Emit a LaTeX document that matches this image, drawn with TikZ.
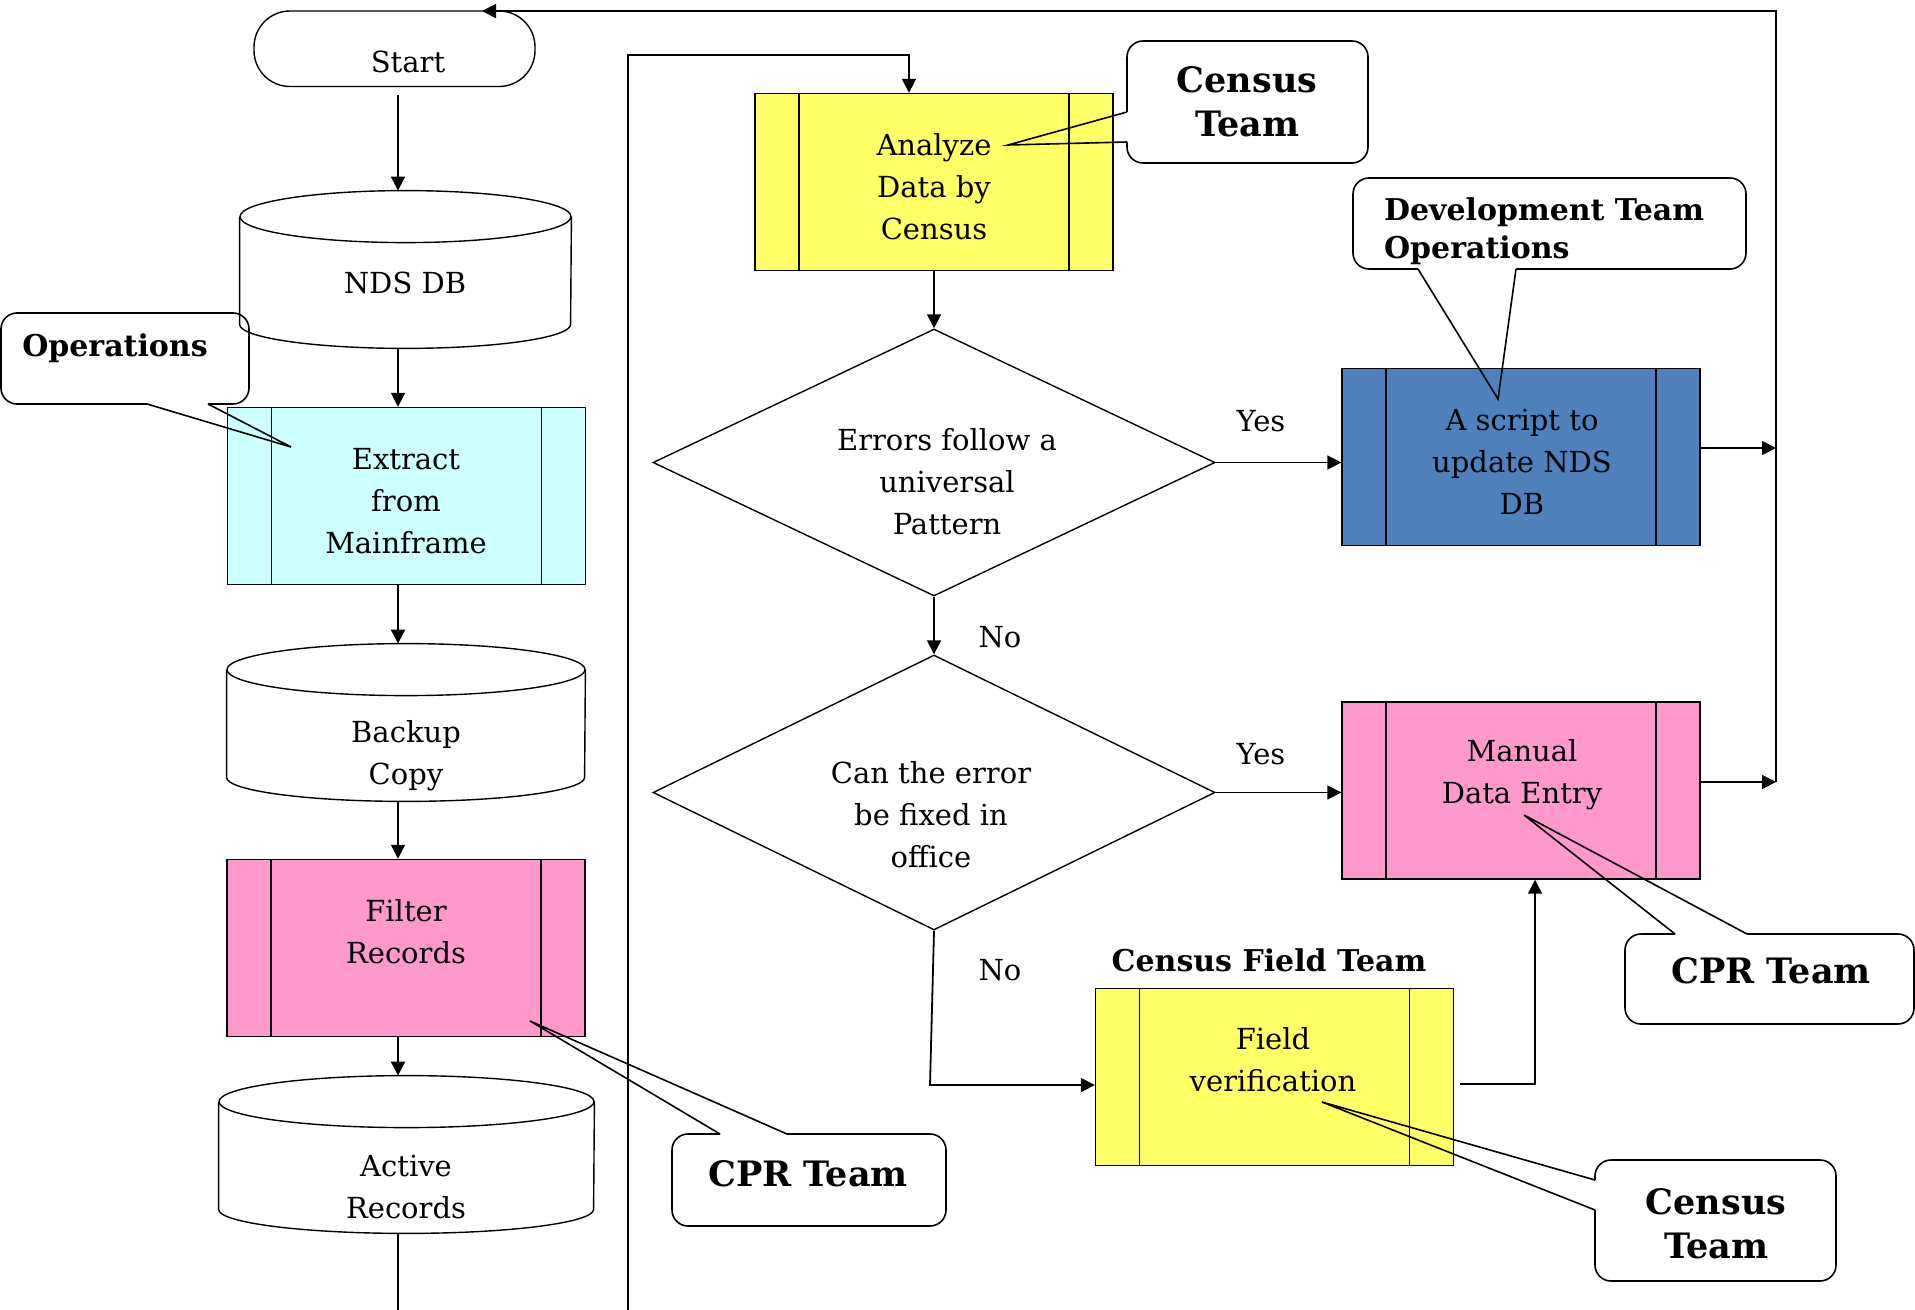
\documentclass[tikz,border=0pt]{standalone}
\usepackage{fontspec}
\setmainfont{DejaVu Serif}
\usetikzlibrary{shapes.geometric,arrows.meta}
\definecolor{boxcyan}{HTML}{CCFFFF}
\definecolor{boxyellow}{HTML}{FFFF66}
\definecolor{boxpink}{HTML}{FF99CC}
\definecolor{boxblue}{HTML}{4F81BD}
\tikzset{
  proc/.style={draw, rectangle, line width=0.7pt, minimum width=179pt, minimum height=88.5pt, inner sep=0pt,
    path picture={
      \draw[line width=0.7pt] ([xshift=22pt]path picture bounding box.north west) -- ([xshift=22pt]path picture bounding box.south west);
      \draw[line width=0.7pt] ([xshift=-22pt]path picture bounding box.north east) -- ([xshift=-22pt]path picture bounding box.south east);
    }},
  dbbox/.style={rectangle, inner sep=0pt, minimum height=78.5pt},
  dbline/.style={line width=0.7pt},
  decision/.style={draw, diamond, line width=0.7pt, inner sep=0pt, minimum width=281pt},
  txt/.style={align=center, font=\fontsize{14.5}{21}\selectfont},
  team/.style={align=center, font=\fontsize{17.5}{22}\selectfont\bfseries},
  smallteam/.style={align=left, font=\fontsize{15}{19}\selectfont\bfseries},
  callout/.style={line width=0.8pt, rounded corners=8pt},
  arr/.style={line width=0.9pt, -{Triangle[length=7pt,width=7pt]}},
  link/.style={line width=0.9pt},
}
\begin{document}
\begin{tikzpicture}[x=0.5pt,y=-0.5pt]
  \useasboundingbox (0,0) rectangle (1915,1310);
  \coordinate (leftcol) at (398,0);
  \coordinate (busbot) at (1776,782);
  \coordinate (busmid) at (1776,448);
  \coordinate (bustop) at (1776,11);
  \coordinate (starttip) at (482,11);
  \coordinate (loopbot) at (628,1310);
  \coordinate (looptop) at (909,55);
  \coordinate (activeend) at (398,1310);
  \coordinate (nocorner) at (930,1085);
  \coordinate (fvturn) at (1535,1084);

  % data column
  \node[draw, line width=0.7pt, rounded corners=18pt, minimum width=140.5pt, minimum height=37.75pt] (start) at (394.5,48.75) {};
  \node[txt] (starttext) at (408,62) {Start};

  \node[dbbox, minimum width=165.5pt] (nds) at (405.5,269.5) {};
  \draw[dbline] ([yshift=-13pt]nds.north) ellipse [x radius=82.75pt, y radius=13pt];
  \draw[dbline] ([yshift=-13pt]nds.north west) -- ([yshift=12pt]nds.south west)
    arc[start angle=180, end angle=360, x radius=82.75pt, y radius=12pt] -- ([yshift=-13pt]nds.north east);
  \node[txt] (ndstext) at (405,283) {NDS DB};

  \node[proc, fill=boxcyan] (extract) at (406.5,496) {};
  \node[txt] (extracttext) at (406,501) {Extract\\from\\Mainframe};

  \node[dbbox, minimum width=179pt] (backup) at (406,722.5) {};
  \draw[dbline] ([yshift=-13pt]backup.north) ellipse [x radius=89.5pt, y radius=13pt];
  \draw[dbline] ([yshift=-13pt]backup.north west) -- ([yshift=12pt]backup.south west)
    arc[start angle=180, end angle=360, x radius=89.5pt, y radius=12pt] -- ([yshift=-13pt]backup.north east);
  \node[txt] (backuptext) at (406,756) {Backup\\Copy};

  \node[proc, fill=boxpink] (filter) at (406,948) {};
  \node[txt] (filtertext) at (406,932) {Filter\\Records};

  \node[dbbox, minimum width=187.5pt] (active) at (406.5,1154.5) {};
  \draw[dbline] ([yshift=-13pt]active.north) ellipse [x radius=93.75pt, y radius=13pt];
  \draw[dbline] ([yshift=-13pt]active.north west) -- ([yshift=12pt]active.south west)
    arc[start angle=180, end angle=360, x radius=93.75pt, y radius=12pt] -- ([yshift=-13pt]active.north east);
  \node[txt] (activetext) at (406,1187) {Active\\Records};

  % checks
  \node[proc, fill=boxyellow] (analyze) at (934,182) {};
  \node[txt] (analyzetext) at (934,187) {Analyze\\Data by\\Census};
  \node[decision, minimum height=133.5pt] (errors) at (934,462.5) {};
  \node[txt] (errorstext) at (947,482) {Errors follow a\\universal\\Pattern};
  \node[decision, minimum height=137.5pt] (fix) at (934,792.5) {};
  \node[txt] (fixtext) at (931,815) {Can the error\\be fixed in\\office};
  \node[proc, fill=boxyellow] (field) at (1274.5,1077) {};
  \node[txt] (fieldtext) at (1273,1060) {Field\\verification};
  \node[smallteam] (fieldteam) at (1269,960) {Census Field Team};

  % corrections
  \node[proc, fill=boxblue] (script) at (1521,457) {};
  \node[txt] (scripttext) at (1522,462) {A script to\\update NDS\\DB};
  \node[proc, fill=boxpink] (manual) at (1521,790.5) {};
  \node[txt] (manualtext) at (1522,775) {Manual\\Data Entry};

  \node[txt] (yesup) at (1261,421) {Yes};
  \node[txt] (yesdown) at (1261,754) {Yes};
  \node[txt] (noup) at (1000,637) {No};
  \node[txt] (nodown) at (1000,970) {No};

  % flow
  \draw[arr, shorten <=4pt] (start.south -| leftcol) -- (nds.north -| leftcol);
  \draw[arr] (nds.south -| leftcol) -- (extract.north -| leftcol);
  \draw[arr] (extract.south -| leftcol) -- (backup.north -| leftcol);
  \draw[arr] (backup.south -| leftcol) -- (filter.north -| leftcol);
  \draw[arr] (filter.south -| leftcol) -- (active.north -| leftcol);
  \draw[link] (active.south -| leftcol) -- (activeend);
  \draw[arr] (loopbot) |- (looptop) -- (looptop |- analyze.north);
  \draw[arr] (analyze.south) -- (errors.north);
  \draw[arr] (errors.east) -- (script.west |- errors.east);
  \draw[arr] (errors.south) -- (fix.north);
  \draw[arr] (fix.east) -- (manual.west |- fix.east);
  \draw[arr] (fix.south) -- (nocorner) -- (nocorner -| field.west);
  \draw[arr] ([xshift=3pt]field.east |- fvturn) -- (fvturn) -- (fvturn |- manual.south);
  \draw[arr] (manual.east |- busbot) -- (busbot);
  \draw[arr] (script.east |- busmid) -- (busmid);
  \draw[arr] (busbot) -- (bustop) -- (starttip);

  % callouts
  \draw[callout] (147,404) -- (1,404) -- (1,313) -- (249,313) -- (249,404) -- (208,404);
  \draw[line width=0.8pt] (147,404) -- (291,447) -- (208,404);
  \node[smallteam] (opstext) at (115,348) {Operations};

  \draw[callout] (1127,112) -- (1127,41) -- (1368,41) -- (1368,163) -- (1127,163) -- (1127,142);
  \draw[line width=0.8pt] (1127,112) -- (1008,145) -- (1127,142);
  \node[team] (censustoptext) at (1247,102) {Census\\Team};

  \draw[callout] (1418,269) -- (1353,269) -- (1353,178) -- (1746,178) -- (1746,269) -- (1516,269);
  \draw[line width=0.8pt] (1418,269) -- (1498,399) -- (1516,269);
  \node[smallteam, anchor=west] (devtext) at (1377,231) {Development Team\\Operations};

  \draw[callout] (720,1134) -- (672,1134) -- (672,1226) -- (946,1226) -- (946,1134) -- (787,1134);
  \draw[line width=0.8pt] (720,1134) -- (530,1021) -- (787,1134);
  \node[team] (cprlefttext) at (808,1174) {CPR Team};

  \draw[callout] (1675,934) -- (1625,934) -- (1625,1024) -- (1914,1024) -- (1914,934) -- (1747,934);
  \draw[line width=0.8pt] (1675,934) -- (1524,815) -- (1747,934);
  \node[team] (cprrighttext) at (1771,971) {CPR Team};

  \draw[callout] (1595,1180) -- (1595,1160) -- (1836,1160) -- (1836,1281) -- (1595,1281) -- (1595,1210);
  \draw[line width=0.8pt] (1595,1180) -- (1322,1102) -- (1595,1210);
  \node[team] (censusbottext) at (1716,1224) {Census\\Team};
\end{tikzpicture}
\end{document}
